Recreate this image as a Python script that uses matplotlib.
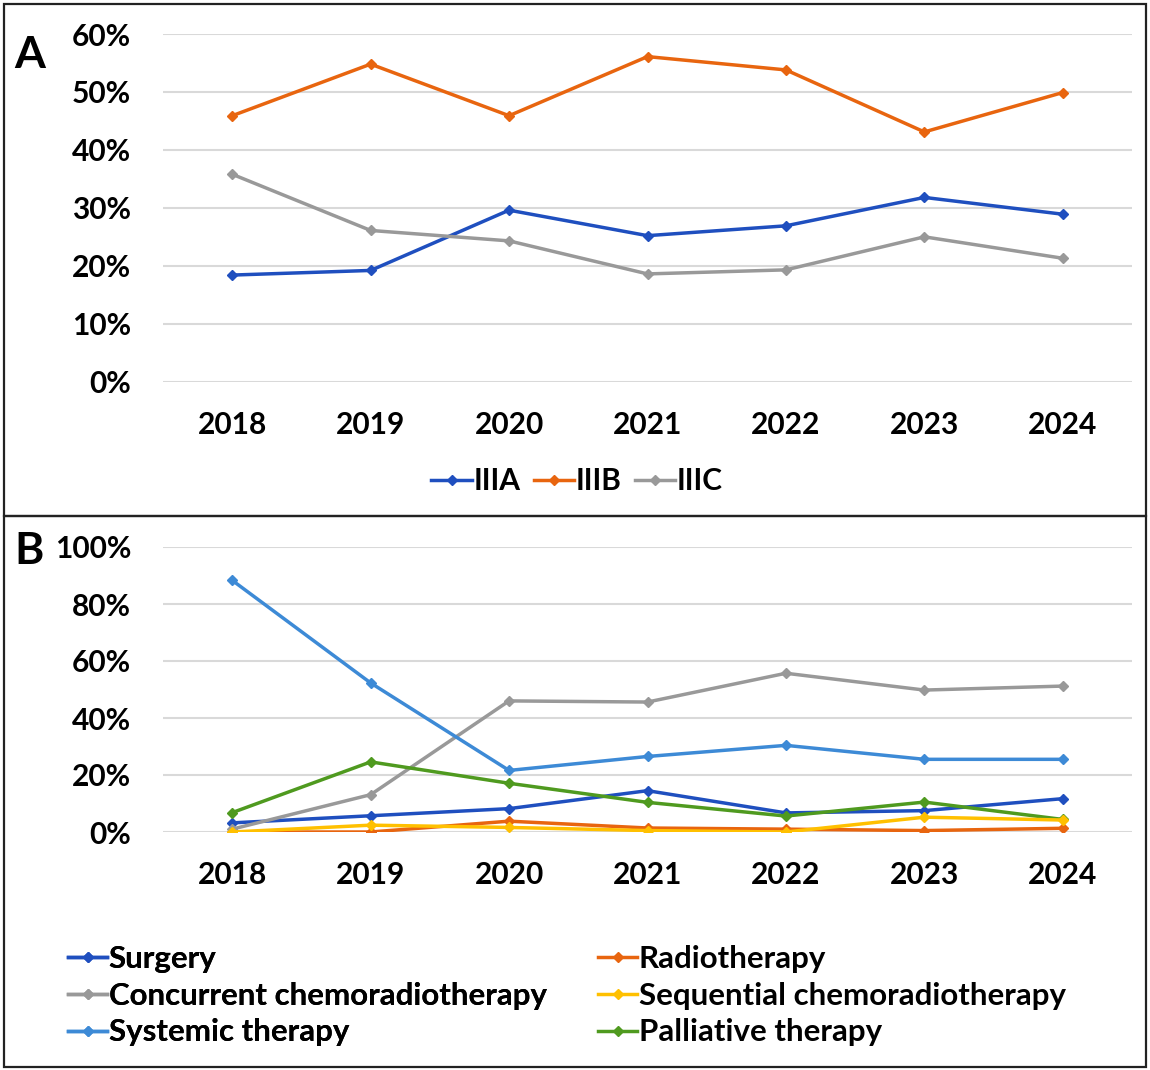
import matplotlib
matplotlib.use("Agg")
import matplotlib.pyplot as plt
from matplotlib.patches import Rectangle
from matplotlib.ticker import FuncFormatter

plt.rcParams["font.family"] = ["Lato", "DejaVu Sans"]
plt.rcParams["font.weight"] = "bold"

# ── data ─────────────────────────────────────────────────────────────────────
years = ["2018", "2019", "2020", "2021", "2022", "2023", "2024"]

# panel A: stage share (%)
stage_IIIA = [18.4, 19.2, 29.6, 25.2, 26.9, 31.8, 28.9]
stage_IIIB = [45.9, 54.8, 45.9, 56.1, 53.8, 43.1, 49.9]
stage_IIIC = [35.8, 26.1, 24.3, 18.6, 19.3, 25.0, 21.3]

# panel B: treatment share (%)
surgery      = [3.2, 5.7, 8.2, 14.5, 6.7, 7.5, 11.7]
radiotherapy = [0.0, 0.0, 3.8, 1.4, 1.0, 0.5, 1.3]
concurrent   = [1.0, 13.1, 46.0, 45.6, 55.7, 49.8, 51.2]
sequential   = [0.0, 2.4, 1.6, 0.5, 0.0, 5.2, 4.2]
systemic     = [88.3, 52.3, 21.6, 26.5, 30.4, 25.5, 25.5]
palliative   = [6.8, 24.6, 17.1, 10.4, 5.6, 10.5, 4.4]

C_BLUE   = "#1f4fbf"
C_ORANGE = "#e8650f"
C_GRAY   = "#999999"
C_YELLOW = "#ffc000"
C_LBLUE  = "#3d8ad6"
C_GREEN  = "#4f9a1f"

FS = 21.5

W, H = 1150, 1070
fig = plt.figure(figsize=(W / 100, H / 100), dpi=100)

# panel borders
for (x0, y0, x1, y1) in [(4, 4, 1146, 516), (4, 516, 1146, 1067)]:
    fig.patches.append(Rectangle((x0 / W, 1 - y1 / H), (x1 - x0) / W, (y1 - y0) / H,
                                 transform=fig.transFigure, fill=False,
                                 edgecolor="#222222", linewidth=1.6))


def px_axes(left, top, right, bottom):
    return fig.add_axes([left / W, 1 - bottom / H, (right - left) / W, (bottom - top) / H])


def style(ax, ymax, step):
    ax.set_xlim(-0.5, len(years) - 0.5)
    ax.set_ylim(0, ymax)
    ax.set_yticks(range(0, ymax + 1, step))
    ax.yaxis.set_major_formatter(FuncFormatter(lambda v, p: f"{v:.0f}%"))
    ax.set_xticks(range(len(years)))
    ax.set_xticklabels(years)
    ax.tick_params(length=0, labelsize=FS)
    ax.tick_params(axis="y", pad=23)
    ax.tick_params(axis="x", pad=21)
    ax.grid(axis="y", color="#d9d9d9", linewidth=1.5)
    ax.set_axisbelow(True)
    for s in ax.spines.values():
        s.set_visible(False)


mk = dict(marker="D", markersize=5, linewidth=2.5)
x = range(len(years))

# ── panel A ──────────────────────────────────────────────────────────────────
axA = px_axes(163, 34, 1132, 381.7)
style(axA, 60, 10)
axA.plot(x, stage_IIIA, color=C_BLUE, label="IIIA", **mk)
axA.plot(x, stage_IIIB, color=C_ORANGE, label="IIIB", **mk)
axA.plot(x, stage_IIIC, color=C_GRAY, label="IIIC", **mk)
fig.legend(*axA.get_legend_handles_labels(), loc="center", ncol=3,
           bbox_to_anchor=(577 / W, 1 - 481 / H), frameon=False,
           fontsize=FS, handlelength=1.35, handletextpad=0.05, columnspacing=0.45)
fig.text(30 / W, 1 - 55 / H, "A", fontsize=32, fontweight="bold", ha="center", va="center")

# ── panel B ──────────────────────────────────────────────────────────────────
axB = px_axes(163, 547, 1132, 832)
style(axB, 100, 20)
lines = {}
for name, vals, col in [("Surgery", surgery, C_BLUE),
                        ("Radiotherapy", radiotherapy, C_ORANGE),
                        ("Concurrent chemoradiotherapy", concurrent, C_GRAY),
                        ("Systemic therapy", systemic, C_LBLUE),
                        ("Palliative therapy", palliative, C_GREEN),
                        ("Sequential chemoradiotherapy", sequential, C_YELLOW)]:
    lines[name] = axB.plot(x, vals, color=col, label=name, **mk)[0]
fig.text(29 / W, 1 - 551 / H, "B", fontsize=32, fontweight="bold", ha="center", va="center")

legkw = dict(loc="upper left", frameon=False, fontsize=22.5, handlelength=1.25,
             handletextpad=0.05, labelspacing=0.28, borderaxespad=0, borderpad=0)
col1 = ["Surgery", "Concurrent chemoradiotherapy", "Systemic therapy"]
col2 = ["Radiotherapy", "Sequential chemoradiotherapy", "Palliative therapy"]
leg1 = fig.legend([lines[n] for n in col1], col1, bbox_to_anchor=(68 / W, 1 - 945 / H), **legkw)
fig.add_artist(leg1)
fig.legend([lines[n] for n in col2], col2, bbox_to_anchor=(598 / W, 1 - 945 / H), **legkw)

fig.savefig("out.png", dpi=100)
